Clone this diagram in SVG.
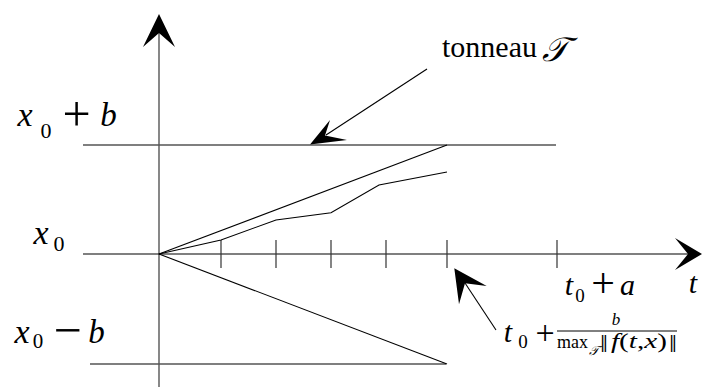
<svg xmlns="http://www.w3.org/2000/svg" width="702" height="387" viewBox="0 0 702 387">
<style>
.ax{stroke:#555;stroke-width:1.4;fill:none}
.ln{stroke:#000;stroke-width:1.1;fill:none}
.tk{stroke:#333;stroke-width:1.2}
.m{font-family:"Liberation Serif","DejaVu Serif",serif;font-style:italic;fill:#000}
.r{font-family:"Liberation Serif","DejaVu Serif",serif;fill:#000}
.nm{font-family:"DejaVu Serif","DejaVu Sans",serif;fill:#000}
.head{fill:#000;stroke:none}
</style>
<rect width="702" height="387" fill="#fff"/>
<g id="connectors">
<line class="ax" x1="159" y1="387" x2="159" y2="20"/>
<path class="head" d="M159,14 L175,47 L159,33 L143,47 Z"/>
<line class="ax" x1="83" y1="145" x2="556" y2="145"/>
<line class="ln" x1="83" y1="254" x2="695" y2="254"/>
<path class="head" d="M702,254 L675,270 L688,254 L675,238 Z"/>
<line class="ax" x1="90" y1="364" x2="446" y2="364"/>
<g class="tk">
<line x1="221" y1="240" x2="221" y2="268"/>
<line x1="276" y1="240" x2="276" y2="268"/>
<line x1="331" y1="240" x2="331" y2="268"/>
<line x1="386" y1="240" x2="386" y2="268"/>
<line x1="447" y1="240" x2="447" y2="268"/>
<line x1="557" y1="240" x2="557" y2="268"/>
</g>
<line class="ln" x1="159" y1="254" x2="447" y2="145"/>
<line class="ln" x1="159" y1="254" x2="447" y2="364"/>
<polyline class="ln" points="159,254 221,240 276,220 331,212.7 379,185 447,172"/>
<line class="ln" x1="427" y1="69" x2="326" y2="135"/>
<path class="head" d="M310,144.5 L330,120 L325,135.5 L347,140 Z"/>
<line class="ln" x1="496" y1="330" x2="465" y2="283"/>
<path class="head" d="M454.3,268.3 L486.7,286 L465,283.3 L459,304.3 Z"/>
</g>
<g id="labels">
<text class="m" x="25" y="126" font-size="34" text-anchor="middle">x</text>
<text class="r" x="46" y="138" font-size="22" text-anchor="middle">0</text>
<text class="r" x="76.5" y="131" font-size="50" text-anchor="middle">+</text>
<text class="m" x="108.5" y="126" font-size="33" text-anchor="middle">b</text>

<text class="m" x="41" y="244" font-size="34" text-anchor="middle">x</text>
<text class="r" x="59" y="251" font-size="22" text-anchor="middle">0</text>

<text class="m" x="22" y="343" font-size="34" text-anchor="middle">x</text>
<text class="r" x="38" y="348" font-size="21" text-anchor="middle">0</text>
<text class="r" x="67.5" y="347" font-size="50" text-anchor="middle">−</text>
<text class="m" x="96.5" y="343" font-size="33" text-anchor="middle">b</text>

<text class="r" x="442" y="57" font-size="30" textLength="95" lengthAdjust="spacingAndGlyphs">tonneau</text>
<text class="m" x="555" y="61" font-size="34" text-anchor="middle">𝒯</text>

<text class="m" x="569" y="295" font-size="30" text-anchor="middle">t</text>
<text class="r" x="580" y="302" font-size="19" text-anchor="middle">0</text>
<text class="r" x="603" y="297" font-size="42" text-anchor="middle">+</text>
<text class="m" x="627.5" y="295" font-size="30" text-anchor="middle">a</text>

<text class="m" x="693" y="293" font-size="30" text-anchor="middle">t</text>

<text class="m" x="508" y="342" font-size="30" text-anchor="middle">t</text>
<text class="r" x="523" y="348" font-size="19" text-anchor="middle">0</text>
<text class="r" x="545" y="344" font-size="34" text-anchor="middle">+</text>
<text class="m" x="616" y="325" font-size="17" text-anchor="middle">b</text>
<line x1="557" y1="331" x2="677" y2="331" stroke="#000" stroke-width="1"/>
<text class="r" x="557" y="348" font-size="18" textLength="31" lengthAdjust="spacingAndGlyphs">max</text>
<text class="m" x="594" y="355" font-size="13" text-anchor="middle">𝒯</text>
<text class="nm" x="604" y="348" font-size="17" text-anchor="middle">‖</text>
<text class="r" x="611" y="348" font-size="20" textLength="56" lengthAdjust="spacingAndGlyphs"><tspan font-style="italic">f</tspan>(<tspan font-style="italic">t</tspan>,<tspan font-style="italic">x</tspan>)</text>
<text class="nm" x="673" y="348" font-size="17" text-anchor="middle">‖</text>
</g>
</svg>
